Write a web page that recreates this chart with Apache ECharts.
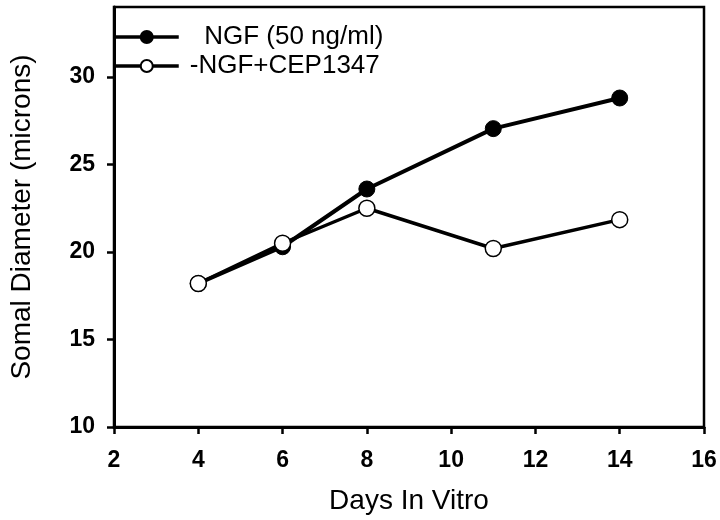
<!DOCTYPE html>
<html>
<head>
<meta charset="utf-8">
<script src="https://cdn.jsdelivr.net/npm/echarts@6/dist/echarts.min.js"></script>
<style>html,body{margin:0;padding:0;background:#fff}#c{width:720px;height:520px}</style>
</head>
<body>
<div id="c"></div>
<script>
const days = [4, 6, 8, 11, 14];
const ngfValues = [18.2, 20.3, 23.6, 27.05, 28.8];
const cepValues = [18.2, 20.5, 22.5, 20.2, 21.85];
const seriesNames = ['NGF (50 ng/ml)', '-NGF+CEP1347'];
const xTicks = [2, 4, 6, 8, 10, 12, 14, 16];
const yTicks = [10, 15, 20, 25, 30];
const xTitle = 'Days In Vitro';
const yTitle = 'Somal Diameter (microns)';

const font = 'Liberation Sans, Arial, sans-serif';
const chart = echarts.init(document.getElementById('c'));
chart.setOption({
  animation: false,
  backgroundColor: '#fff',
  grid: {left: 97, right: 16, top: 7, bottom: 90, show: true, borderColor: '#000', borderWidth: 2.5, backgroundColor: 'transparent'},
  legend: {
    orient: 'vertical', left: 108, top: 19, itemWidth: 64, itemHeight: 15, itemGap: 3,
    data: seriesNames,
    lineStyle: {width: 3.5, color: '#000'},
    formatter: n => n === seriesNames[0] ? '  ' + n : n,
    textStyle: {fontFamily: font, fontSize: 26, color: '#000', padding: [0, 0, 0, 6]}
  },
  xAxis: {
    type: 'value', min: xTicks[0], max: xTicks[xTicks.length - 1], interval: 2,
    name: xTitle, nameLocation: 'middle', nameGap: 60,
    nameTextStyle: {fontFamily: font, fontSize: 28, color: '#000'},
    axisLine: {lineStyle: {color: '#000', width: 3}},
    axisTick: {inside: false, length: 7, lineStyle: {color: '#000', width: 2.5}, customValues: xTicks},
    axisLabel: {fontFamily: font, fontSize: 23, fontWeight: 'bold', color: '#000', margin: 22, customValues: xTicks},
    splitLine: {show: false}
  },
  yAxis: {
    type: 'value', min: 10, max: 34, interval: 5,
    name: yTitle, nameLocation: 'middle', nameGap: 78, nameRotate: 90,
    nameTextStyle: {fontFamily: font, fontSize: 28, color: '#000'},
    axisLine: {lineStyle: {color: '#000', width: 3}},
    axisTick: {inside: false, length: 7, lineStyle: {color: '#000', width: 2.5}, customValues: yTicks},
    axisLabel: {fontFamily: font, fontSize: 23, fontWeight: 'bold', color: '#000', margin: 19, customValues: yTicks},
    splitLine: {show: false}
  },
  series: [
    {
      name: seriesNames[0], type: 'line',
      data: days.map((d, i) => [d, ngfValues[i]]),
      symbol: 'circle', symbolSize: 16,
      lineStyle: {color: '#000', width: 4},
      itemStyle: {color: '#000', borderColor: '#000', borderWidth: 1},
      z: 2
    },
    {
      name: seriesNames[1], type: 'line',
      data: days.map((d, i) => [d, cepValues[i]]),
      symbol: 'circle', symbolSize: 16,
      lineStyle: {color: '#000', width: 3.5},
      itemStyle: {color: '#fff', borderColor: '#000', borderWidth: 1.5},
      z: 3
    }
  ]
});
</script>
</body>
</html>
